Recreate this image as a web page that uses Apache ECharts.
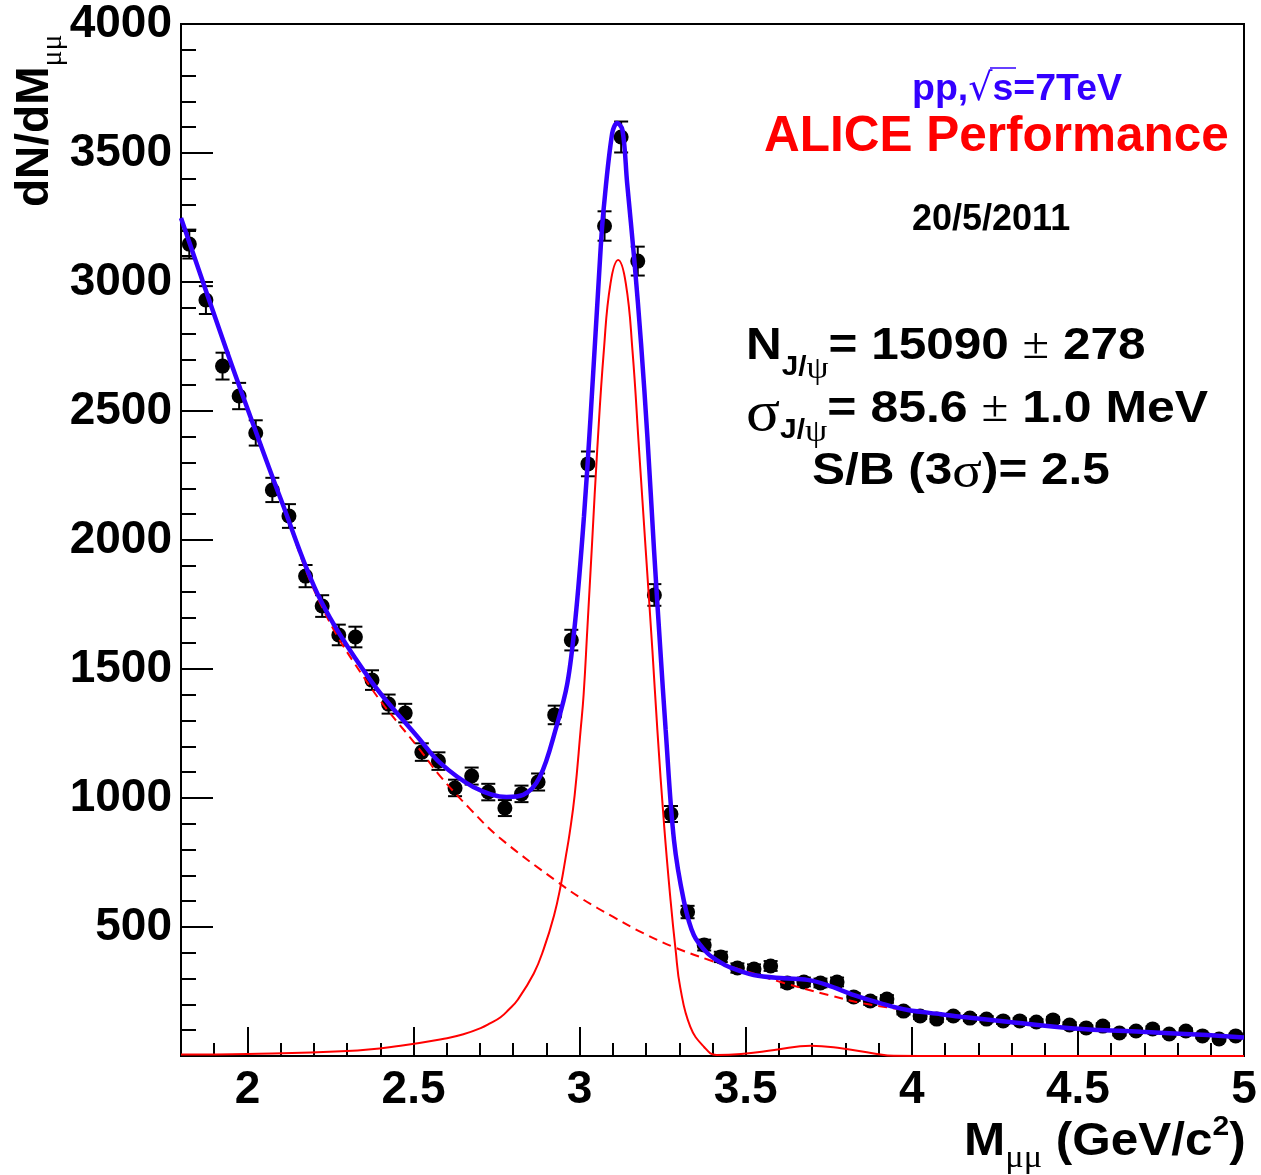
<!DOCTYPE html>
<html>
<head>
<meta charset="utf-8">
<script src="https://cdn.jsdelivr.net/npm/echarts@6/dist/echarts.min.js"></script>
<style>
  html, body { margin: 0; padding: 0; background: #fff; }
  #chart { width: 1261px; height: 1175px; }
</style>
</head>
<body>
<div id="chart"></div>
<script>
// Dimuon invariant mass spectrum, bin centres (GeV/c^2)
const massBins = [
  1.825, 1.875, 1.925, 1.975, 2.025, 2.075, 2.125, 2.175, 2.225, 2.275,
  2.325, 2.375, 2.425, 2.475, 2.525, 2.575, 2.625, 2.675, 2.725, 2.775,
  2.825, 2.875, 2.925, 2.975, 3.025, 3.075, 3.125, 3.175, 3.225, 3.275,
  3.325, 3.375, 3.425, 3.475, 3.525, 3.575, 3.625, 3.675, 3.725, 3.775,
  3.825, 3.875, 3.925, 3.975, 4.025, 4.075, 4.125, 4.175, 4.225, 4.275,
  4.325, 4.375, 4.425, 4.475, 4.525, 4.575, 4.625, 4.675, 4.725, 4.775,
  4.825, 4.875, 4.925, 4.975
];
// dN/dM per bin
const counts = [
  3147, 2930, 2674, 2558, 2415, 2194, 2093, 1860, 1744, 1632,
  1624, 1457, 1364, 1329, 1178, 1143, 1039, 1085, 1023, 961,
  1016, 1062, 1322, 1612, 2295, 3217, 3562, 3081, 1787, 938,
  558, 430, 384, 341, 337, 349, 283, 287, 283, 287,
  229, 213, 221, 174, 155, 143, 155, 147, 143, 136,
  136, 132, 140, 120, 109, 116, 89, 97, 105, 85,
  97, 78, 66, 78
];
// statistical uncertainty per bin
const countErrors = [
  56, 54, 52, 51, 49, 47, 46, 43, 42, 40,
  40, 38, 37, 36, 34, 34, 32, 33, 32, 31,
  32, 33, 36, 40, 48, 57, 60, 56, 42, 31,
  24, 21, 20, 18, 18, 19, 17, 17, 17, 17,
  15, 15, 15, 13, 12, 12, 12, 12, 12, 12,
  12, 11, 12, 11, 10, 11, 9, 10, 10, 9,
  10, 9, 8, 9
];

// Total fit (signal + background)
const fitMass = [
  1.80, 1.94, 2.02, 2.10, 2.22, 2.37, 2.52, 2.58, 2.68, 2.78,
  2.83, 2.88, 2.93, 2.963, 2.988, 3.013, 3.033, 3.063, 3.072, 3.098,
  3.113, 3.129, 3.143, 3.165, 3.185, 3.204, 3.224, 3.243, 3.259, 3.284,
  3.314, 3.344, 3.385, 3.42, 3.452, 3.524, 3.615, 3.686, 3.746, 3.826,
  3.907, 3.988, 4.088, 4.148, 4.288, 4.488, 4.69, 4.89, 5.0
];
const fitTotal = [
  3248, 2725, 2439, 2160, 1767, 1457, 1225, 1136, 1043, 1004,
  1012, 1081, 1276, 1444, 1703, 2090, 2478, 3124, 3279, 3576,
  3616, 3589, 3384, 3080, 2760, 2400, 1961, 1574, 1264, 837,
  600, 468, 398, 366, 344, 314, 301, 295, 275, 236,
  204, 178, 162, 152, 133, 107, 94, 81, 72
];

// Background component
const bkgMass = [
  1.80, 1.94, 2.02, 2.10, 2.22, 2.37, 2.52, 2.58, 2.67, 2.76,
  2.93, 3.01, 3.10, 3.19, 3.28, 3.39, 3.49, 3.615, 3.75, 3.85,
  4.0, 4.15, 4.29, 4.49, 4.69, 4.89, 5.0
];
const bkgValues = [
  3245, 2722, 2436, 2155, 1752, 1431, 1186, 1085, 958, 845,
  678, 607, 540, 477, 424, 372, 333, 283, 236, 205,
  175, 152, 133, 107, 94, 81, 72
];

// J/psi and psi(2S) signal component
const sigMass = [
  1.80, 2.00, 2.30, 2.461, 2.601, 2.65, 2.702, 2.73, 2.762, 2.787,
  2.812, 2.862, 2.892, 2.923, 2.943, 2.958, 2.97, 2.985, 3.003, 3.012,
  3.023, 3.038, 3.053, 3.073, 3.093, 3.116, 3.139, 3.159, 3.179, 3.199,
  3.219, 3.234, 3.254, 3.274, 3.289, 3.303, 3.333, 3.374, 3.412, 3.486,
  3.586, 3.696, 3.787, 3.886, 3.946, 4.1, 5.0
];
const sigValues = [
  6, 8, 19, 40, 69, 84, 108, 126, 150, 180,
  215, 320, 415, 545, 660, 770, 864, 1010, 1264, 1400,
  1650, 2000, 2350, 2736, 2995, 3085, 2995, 2736, 2349, 1961,
  1574, 1264, 900, 600, 410, 265, 114, 36, 4, 8,
  23, 40, 30, 10, 1, 0, 0
];

// Axis ticks
const xMajorTicks = [2, 2.5, 3, 3.5, 4, 4.5, 5];
const yTickStep = 500;

const pair = (xs, ys) => xs.map((x, i) => [x, ys[i]]);

const SANS = "'Liberation Sans', Arial, Helvetica, sans-serif";
const SERIF = "'Liberation Serif', 'DejaVu Serif', serif";
const FIT_BLUE = '#3300ff';
const RED = '#ff0000';

const chart = echarts.init(document.getElementById('chart'), null, { renderer: 'canvas' });

const textEl = (x, y, text, rich, extra) => Object.assign({
  type: 'text', x: x, y: y, z: 100,
  style: {
    text: text, rich: rich,
    align: 'left', verticalAlign: 'top',
    textAlign: 'left', textVerticalAlign: 'top'
  }
}, extra || {});

const statRich = (sigmaSize) => ({
  m: { fontFamily: SANS, fontWeight: 'bold', fontSize: 45, lineHeight: 46, fill: '#000', verticalAlign: 'top' },
  g: { fontFamily: SERIF, fontSize: sigmaSize, lineHeight: 46, fill: '#000', verticalAlign: 'top' },
  pm: { fontFamily: SERIF, fontSize: 44, lineHeight: 46, fill: '#000', verticalAlign: 'top' },
  s: { fontFamily: SANS, fontWeight: 'bold', fontSize: 27, lineHeight: 27, fill: '#000', padding: [30, 0, 0, 0], verticalAlign: 'top' },
  sg: { fontFamily: SERIF, fontSize: 32, lineHeight: 27, fill: '#000', padding: [30, 0, 0, 0], verticalAlign: 'top' }
});

const option = {
  animation: false,
  backgroundColor: '#fff',
  grid: {
    left: 181, right: 17, top: 24, bottom: 119,
    show: true, borderColor: '#000', borderWidth: 2, backgroundColor: 'transparent'
  },
  xAxis: [
    {
      type: 'value', min: 1.8, max: 5, position: 'bottom',
      axisLine: { show: true, lineStyle: { color: '#000', width: 2 } },
      axisTick: { show: true, inside: true, length: 29, customValues: xMajorTicks, lineStyle: { color: '#000', width: 2 } },
      axisLabel: {
        show: true, customValues: xMajorTicks, margin: 11,
        fontFamily: SANS, fontWeight: 'bold', fontSize: 46, color: '#000'
      },
      splitLine: { show: false }
    },
    {
      type: 'value', min: 1.8, max: 5, interval: 0.1, position: 'bottom',
      axisLine: { show: false },
      axisTick: { show: true, inside: true, length: 13, lineStyle: { color: '#000', width: 2 } },
      axisLabel: { show: false },
      splitLine: { show: false }
    }
  ],
  yAxis: {
    type: 'value', min: 0, max: 4000, interval: yTickStep,
    axisLine: { show: true, lineStyle: { color: '#000', width: 2 } },
    axisTick: { show: true, inside: true, length: 32, lineStyle: { color: '#000', width: 2 } },
    minorTick: { show: true, splitNumber: 5, length: 15, lineStyle: { color: '#000', width: 2 } },
    axisLabel: {
      margin: 9, fontFamily: SANS, fontWeight: 'bold', fontSize: 46, color: '#000',
      formatter: v => (v === 0 ? '' : String(v))
    },
    splitLine: { show: false }
  },
  series: [
    {
      name: 'errors', type: 'custom', z: 2,
      data: massBins.map((m, i) => [m, counts[i], countErrors[i]]),
      encode: { x: 0, y: 1 },
      renderItem: (params, api) => {
        const x = api.value(0), y = api.value(1), e = api.value(2);
        const top = api.coord([x, y + e]);
        const bot = api.coord([x, y - e]);
        const half = 7;
        const st = { stroke: '#000', lineWidth: 2 };
        return {
          type: 'group',
          children: [
            { type: 'line', shape: { x1: top[0], y1: top[1], x2: bot[0], y2: bot[1] }, style: st },
            { type: 'line', shape: { x1: top[0] - half, y1: top[1], x2: top[0] + half, y2: top[1] }, style: st },
            { type: 'line', shape: { x1: bot[0] - half, y1: bot[1], x2: bot[0] + half, y2: bot[1] }, style: st }
          ]
        };
      }
    },
    {
      name: 'data', type: 'scatter', z: 3,
      symbol: 'circle', symbolSize: 15,
      itemStyle: { color: '#000', opacity: 1 },
      data: pair(massBins, counts)
    },
    {
      name: 'background', type: 'line', z: 4,
      showSymbol: false, smooth: 0.4,
      lineStyle: { color: RED, width: 2, type: [9, 6] },
      data: pair(bkgMass, bkgValues)
    },
    {
      name: 'signal', type: 'line', z: 4,
      showSymbol: false, smooth: 0.45,
      lineStyle: { color: RED, width: 2 },
      data: pair(sigMass, sigValues)
    },
    {
      name: 'total', type: 'line', z: 5,
      showSymbol: false, smooth: 0.35,
      lineStyle: { color: FIT_BLUE, width: 4.5 },
      data: pair(fitMass, fitTotal)
    }
  ],
  graphic: [
    // y-axis title
    textEl(12, 207, '{m|dN/dM}{s|μμ}', {
      m: { fontFamily: SANS, fontWeight: 'bold', fontSize: 46, lineHeight: 46, fill: '#000', verticalAlign: 'top' },
      s: { fontFamily: SERIF, fontSize: 30, lineHeight: 30, fill: '#000', padding: [26, 0, 0, 0], verticalAlign: 'top' }
    }, { rotation: Math.PI / 2 }),
    // x-axis title
    textEl(964, 1113, '{m|M}{s|μμ}{m| (GeV/c}{u|2}{m|)}', {
      m: { fontFamily: SANS, fontWeight: 'bold', fontSize: 46, lineHeight: 46, fill: '#000', padding: [6, 0, 0, 0], verticalAlign: 'top' },
      s: { fontFamily: SERIF, fontSize: 32, lineHeight: 30, fill: '#000', padding: [30, 0, 0, 0], verticalAlign: 'top' },
      u: { fontFamily: SANS, fontWeight: 'bold', fontSize: 28, lineHeight: 28, fill: '#000', verticalAlign: 'top' }
    }, { scaleX: 1.075 }),
    // collision system
    textEl(912, 71, '{m|pp,}{r|√}{m|s=7TeV}', {
      m: { fontFamily: SANS, fontWeight: 'bold', fontSize: 37.5, lineHeight: 38, fill: FIT_BLUE, verticalAlign: 'top' },
      r: { fontFamily: "'DejaVu Sans', sans-serif", fontSize: 38, lineHeight: 38, fill: FIT_BLUE, verticalAlign: 'top' }
    }),
    { type: 'line', z: 100, shape: { x1: 990, y1: 68, x2: 1016, y2: 68 }, style: { stroke: FIT_BLUE, lineWidth: 1.5 } },
    textEl(764, 112, '{m|ALICE Performance}', {
      m: { fontFamily: SANS, fontWeight: 'bold', fontSize: 49.5, lineHeight: 50, fill: RED }
    }),
    textEl(912, 201, '{m|20/5/2011}', {
      m: { fontFamily: SANS, fontWeight: 'bold', fontSize: 36, lineHeight: 38, fill: '#000' }
    }),
    // fit results
    textEl(746, 324, '{m|N}{s|J/}{sg|ψ}{m|= 15090 }{pm|±}{m| 278}', statRich(50), { scaleX: 1.1 }),
    textEl(746, 387, '{g|σ}{s|J/}{sg|ψ}{m|= 85.6 }{pm|±}{m| 1.0 MeV}', statRich(57), { scaleX: 1.11 }),
    textEl(812, 449, '{m|S/B (3}{g|σ}{m|)= 2.5}', statRich(50), { scaleX: 1.1 })
  ]
};

chart.setOption(option);
</script>
</body>
</html>
